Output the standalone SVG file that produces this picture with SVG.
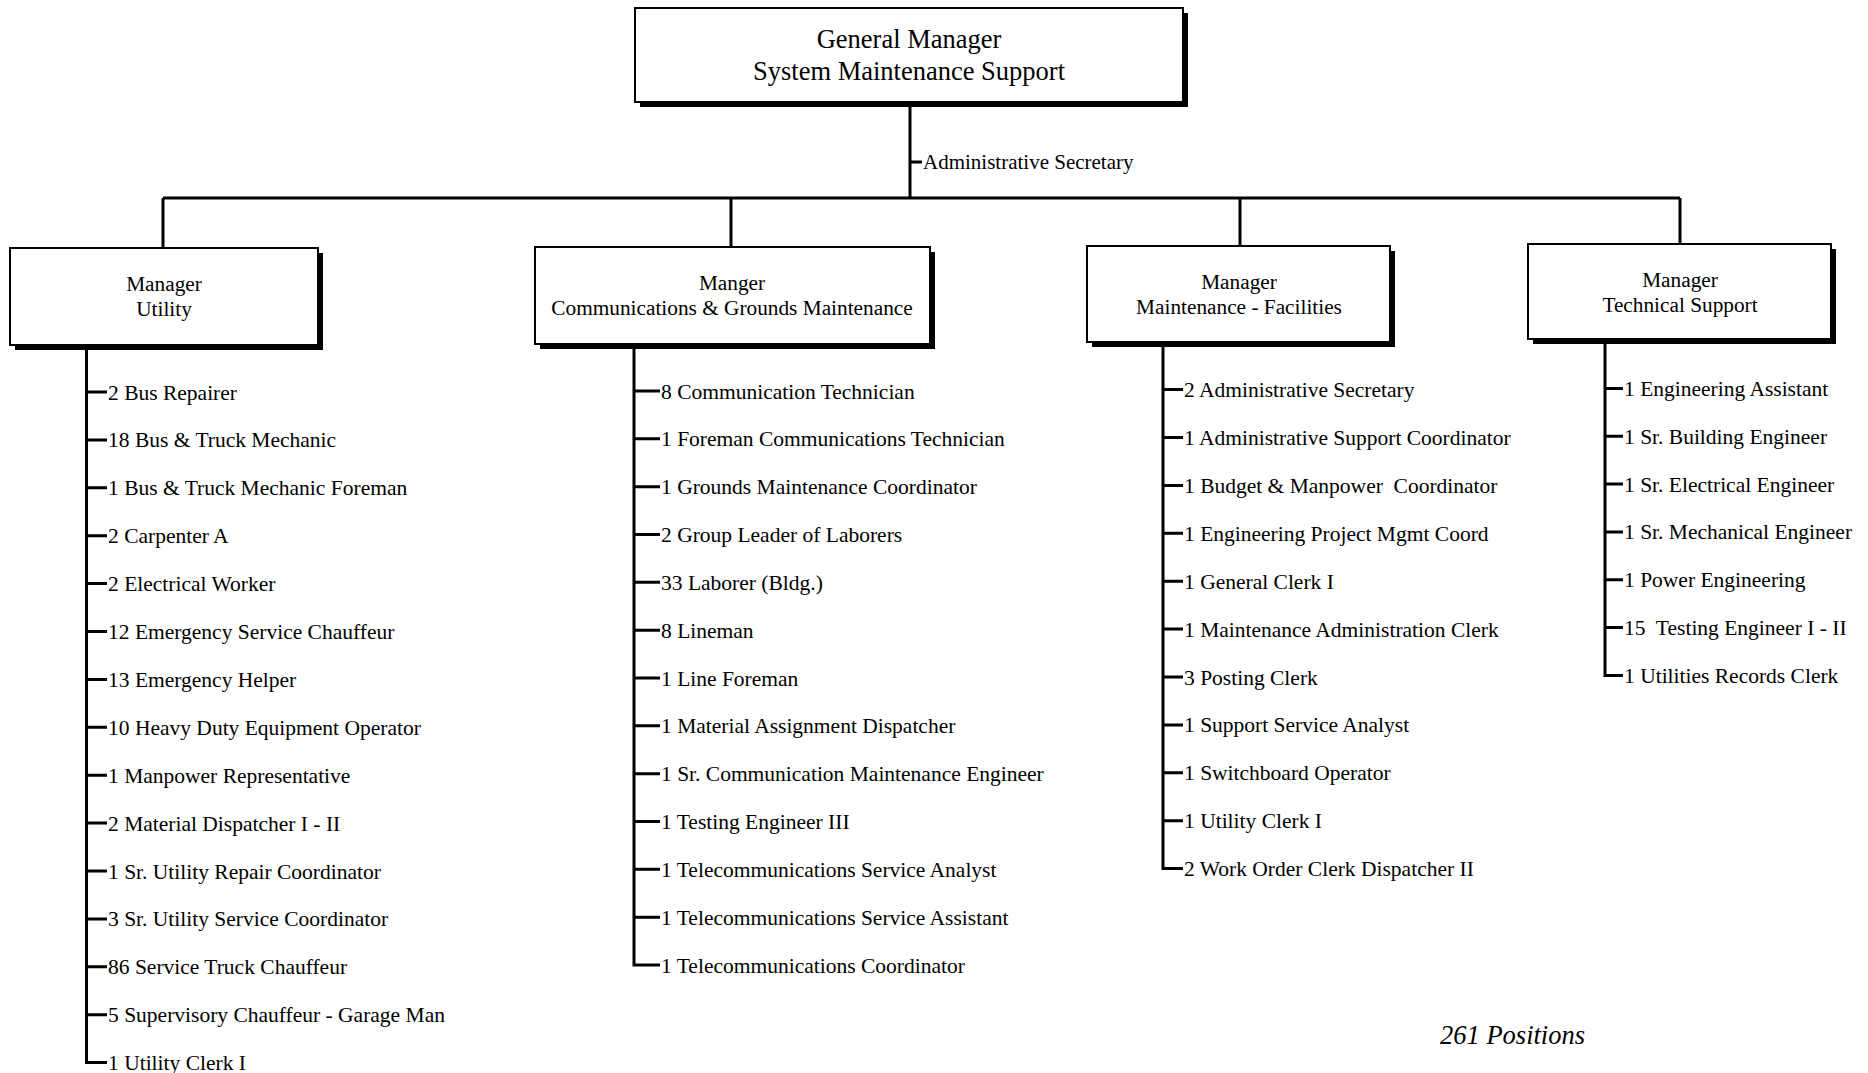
<svg xmlns="http://www.w3.org/2000/svg" width="1868" height="1073" viewBox="0 0 1868 1073">
<style>
text{font-family:"Liberation Serif","Times New Roman",serif;fill:#000}
.box{fill:#fff;stroke:#000;stroke-width:2}
.sh{fill:#000}
.t1{font-size:26.5px;text-anchor:middle}
.t2{font-size:21.3px;text-anchor:middle}
.it{font-size:21.5px}
.c{fill:none;stroke:#000;stroke-width:3}
.pos{font-size:26.5px;font-style:italic}
</style>
<rect width="1868" height="1073" fill="#fff"/>
<g id="connectors">
<path class="c" d="M910,104V198M163,198H1680M163,198V248M731,198V247M1240,198V246M1680,198V244M910,162H922"/>
<path class="c" d="M86.5,350V1062.6H107M86.5,392H107M86.5,439.9H107M86.5,487.8H107M86.5,535.7H107M86.5,583.6H107M86.5,631.5H107M86.5,679.4H107M86.5,727.3H107M86.5,775.2H107M86.5,823.1H107M86.5,871H107M86.5,918.9H107M86.5,966.8H107M86.5,1014.7H107"/>
<path class="c" d="M634,349V965H660M634,391H660M634,438.8H660M634,486.7H660M634,534.5H660M634,582.3H660M634,630.2H660M634,678H660M634,725.8H660M634,773.7H660M634,821.5H660M634,869.3H660M634,917.2H660"/>
<path class="c" d="M1163,347V868.6H1183M1163,389.6H1183M1163,437.5H1183M1163,485.4H1183M1163,533.3H1183M1163,581.2H1183M1163,629.1H1183M1163,677H1183M1163,724.9H1183M1163,772.8H1183M1163,820.7H1183"/>
<path class="c" d="M1605,344V675.5H1623M1605,388.4H1623M1605,436.2H1623M1605,484.1H1623M1605,531.9H1623M1605,579.8H1623M1605,627.6H1623"/>
</g>
<g id="gm">
<rect class="sh" x="640" y="13" width="548" height="94"/>
<rect class="box" x="635" y="8" width="548" height="94"/>
<text class="t1" x="909" y="48">General Manager</text>
<text class="t1" x="909" y="80">System Maintenance Support</text>
</g>
<text id="admin-secretary" x="923" y="169" style="font-size:21px">Administrative Secretary</text>
<g id="mgr-utility">
<rect class="sh" x="15" y="253" width="308" height="97"/>
<rect class="box" x="10" y="248" width="308" height="97"/>
<text class="t2" x="164" y="291">Manager</text>
<text class="t2" x="164" y="316">Utility</text>
</g>
<g id="mgr-comm">
<rect class="sh" x="540" y="252" width="395" height="97"/>
<rect class="box" x="535" y="247" width="395" height="97"/>
<text class="t2" x="732" y="290">Manger</text>
<text class="t2" x="732" y="315">Communications &amp; Grounds Maintenance</text>
</g>
<g id="mgr-maint">
<rect class="sh" x="1092" y="251" width="303" height="96"/>
<rect class="box" x="1087" y="246" width="303" height="96"/>
<text class="t2" x="1239" y="289">Manager</text>
<text class="t2" x="1239" y="314">Maintenance - Facilities</text>
</g>
<g id="mgr-tech">
<rect class="sh" x="1533" y="249" width="303" height="95"/>
<rect class="box" x="1528" y="244" width="303" height="95"/>
<text class="t2" x="1680" y="287">Manager</text>
<text class="t2" x="1680" y="312">Technical Support</text>
</g>
<g id="list-utility" class="it">
<text x="108" y="399.5">2 Bus Repairer</text>
<text x="108" y="447.4">18 Bus &amp; Truck Mechanic</text>
<text x="108" y="495.3">1 Bus &amp; Truck Mechanic Foreman</text>
<text x="108" y="543.2">2 Carpenter A</text>
<text x="108" y="591.1">2 Electrical Worker</text>
<text x="108" y="639">12 Emergency Service Chauffeur</text>
<text x="108" y="686.9">13 Emergency Helper</text>
<text x="108" y="734.8">10 Heavy Duty Equipment Operator</text>
<text x="108" y="782.7">1 Manpower Representative</text>
<text x="108" y="830.6">2 Material Dispatcher I - II</text>
<text x="108" y="878.5">1 Sr. Utility Repair Coordinator</text>
<text x="108" y="926.4">3 Sr. Utility Service Coordinator</text>
<text x="108" y="974.3">86 Service Truck Chauffeur</text>
<text x="108" y="1022.2">5 Supervisory Chauffeur - Garage Man</text>
<text x="108" y="1070.1">1 Utility Clerk I</text>
</g>
<g id="list-comm" class="it">
<text x="661" y="398.5">8 Communication Technician</text>
<text x="661" y="446.3">1 Foreman Communications Technician</text>
<text x="661" y="494.2">1 Grounds Maintenance Coordinator</text>
<text x="661" y="542">2 Group Leader of Laborers</text>
<text x="661" y="589.8">33 Laborer (Bldg.)</text>
<text x="661" y="637.7">8 Lineman</text>
<text x="661" y="685.5">1 Line Foreman</text>
<text x="661" y="733.3">1 Material Assignment Dispatcher</text>
<text x="661" y="781.2">1 Sr. Communication Maintenance Engineer</text>
<text x="661" y="829">1 Testing Engineer III</text>
<text x="661" y="876.8">1 Telecommunications Service Analyst</text>
<text x="661" y="924.7">1 Telecommunications Service Assistant</text>
<text x="661" y="972.5">1 Telecommunications Coordinator</text>
</g>
<g id="list-maint" class="it">
<text x="1184" y="397.1">2 Administrative Secretary</text>
<text x="1184" y="445">1 Administrative Support Coordinator</text>
<text x="1184" y="492.9">1 Budget &amp; Manpower&#160; Coordinator</text>
<text x="1184" y="540.8">1 Engineering Project Mgmt Coord</text>
<text x="1184" y="588.7">1 General Clerk I</text>
<text x="1184" y="636.6">1 Maintenance Administration Clerk</text>
<text x="1184" y="684.5">3 Posting Clerk</text>
<text x="1184" y="732.4">1 Support Service Analyst</text>
<text x="1184" y="780.3">1 Switchboard Operator</text>
<text x="1184" y="828.2">1 Utility Clerk I</text>
<text x="1184" y="876.1">2 Work Order Clerk Dispatcher II</text>
</g>
<g id="list-tech" class="it">
<text x="1624" y="395.9">1 Engineering Assistant</text>
<text x="1624" y="443.7">1 Sr. Building Engineer</text>
<text x="1624" y="491.6">1 Sr. Electrical Engineer</text>
<text x="1624" y="539.4">1 Sr. Mechanical Engineer</text>
<text x="1624" y="587.3">1 Power Engineering</text>
<text x="1624" y="635.1">15&#160; Testing Engineer I - II</text>
<text x="1624" y="683">1 Utilities Records Clerk</text>
</g>
<text id="total" class="pos" x="1440" y="1044">261 Positions</text>
</svg>
